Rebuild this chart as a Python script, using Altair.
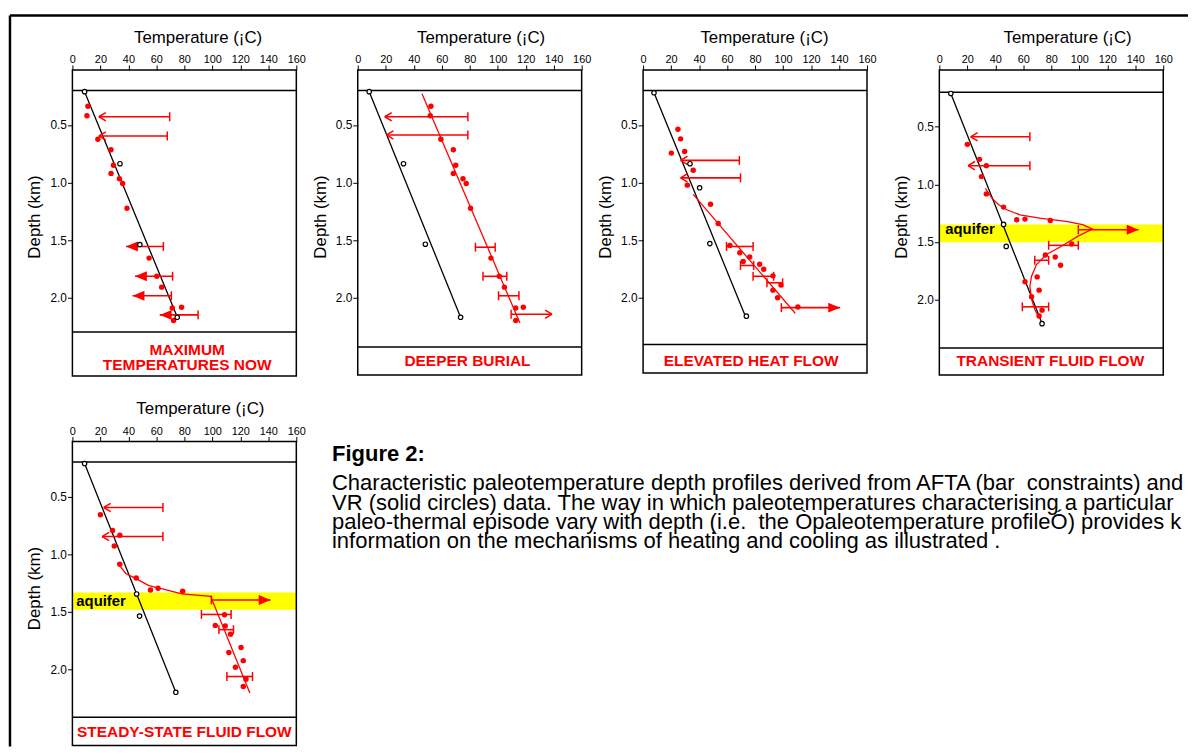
import altair as alt
import pandas as pd

FONT = "Liberation Sans"
RED = "#ff0000"
YELLOW = "#ffff00"

TEMP_TITLE = "Temperature (¡C)"
DEPTH_TITLE = "Depth (km)"
TEMP_TICKS = [0, 20, 40, 60, 80, 100, 120, 140, 160]
DEPTH_TICKS = [0.5, 1.0, 1.5, 2.0]
SURFACE_D = [0.2]

# ---------------- Panel 1 : MAXIMUM TEMPERATURES NOW ----------------
P1_TITLE = "MAXIMUM\nTEMPERATURES NOW"
P1_TITLE_T, P1_TITLE_D = 82.0, 2.457
P1_BASE_D = 2.298
P1_NOW_T = [8.7, 75.0]
P1_NOW_D = [0.21, 2.17]
P1_OPEN_T = [8.7, 34.0, 48.2, 74.9]
P1_OPEN_D = [0.21, 0.836, 1.538, 2.17]
P1_VR_T = [11.1, 10.4, 18.2, 27.6, 29.3, 27.6, 33.6, 35.9, 39.0, 54.8, 60.3, 63.8, 71.4, 78.0, 72.3]
P1_VR_D = [0.337, 0.42, 0.623, 0.715, 0.85, 0.92, 0.967, 1.008, 1.223, 1.656, 1.814, 1.908, 2.09, 2.083, 2.198]
P1_BAR_D = [0.428, 0.595, 1.555, 1.813, 1.983, 2.149]
P1_BAR_LO = [18.9, 18.9, 38.3, 44.7, 43.0, 62.4]
P1_BAR_HI = [69.5, 67.8, 65.0, 71.6, 70.7, 89.8]
P1_LO_END = ["open", "open", "fill", "fill", "fill", "fill"]
P1_HI_END = ["cap", "cap", "cap", "cap", "cap", "cap"]

# ---------------- Panel 2 : DEEPER BURIAL ----------------
P2_TITLE = "DEEPER BURIAL"
P2_TITLE_T, P2_TITLE_D = 78.4, 2.55
P2_BASE_D = 2.427
P2_NOW_T = [8.2, 73.5]
P2_NOW_D = [0.21, 2.17]
P2_OPEN_T = [8.2, 32.7, 48.3, 73.5]
P2_OPEN_D = [0.21, 0.836, 1.535, 2.17]
P2_FIT_T = [45.9, 115.9]
P2_FIT_D = [0.228, 2.22]
P2_VR_T = [52.3, 51.8, 59.4, 68.3, 70.0, 68.3, 75.2, 77.5, 80.6, 95.2, 101.1, 104.8, 112.9, 118.3, 112.9]
P2_VR_D = [0.337, 0.42, 0.623, 0.715, 0.85, 0.92, 0.967, 1.008, 1.223, 1.656, 1.814, 1.908, 2.09, 2.083, 2.198]
P2_BAR_D = [0.428, 0.586, 1.561, 1.814, 1.983, 2.143]
P2_BAR_LO = [19.3, 20.5, 84.1, 89.5, 100.6, 109.6]
P2_BAR_HI = [78.7, 78.7, 98.2, 106.5, 115.2, 138.8]
P2_LO_END = ["open", "open", "cap", "cap", "cap", "cap"]
P2_HI_END = ["cap", "cap", "cap", "cap", "cap", "open"]

# ---------------- Panel 3 : ELEVATED HEAT FLOW ----------------
P3_TITLE = "ELEVATED HEAT FLOW"
P3_TITLE_T, P3_TITLE_D = 77.2, 2.55
P3_BASE_D = 2.407
P3_NOW_T = [7.8, 73.1]
P3_NOW_D = [0.22, 2.16]
P3_OPEN_T = [7.8, 33.5, 40.4, 47.7, 73.8]
P3_OPEN_D = [0.22, 0.836, 1.045, 1.53, 2.16]
P3_FIT_T = [35.8, 108.7]
P3_FIT_D = [1.102, 2.135]
P3_VR_T = [24.9, 26.8, 29.7, 20.2, 35.8, 31.6, 48.2, 53.7, 62.0, 69.1, 76.2, 71.5, 83.3, 86.2, 92.8, 98.5, 92.8, 96.1, 110.6]
P3_VR_D = [0.537, 0.62, 0.73, 0.744, 0.893, 1.022, 1.188, 1.355, 1.547, 1.61, 1.647, 1.685, 1.71, 1.753, 1.81, 1.89, 1.934, 2.0, 2.08]
P3_BAR_D = [0.807, 0.959, 1.555, 1.72, 1.814, 1.87, 2.086]
P3_BAR_LO = [26.8, 26.8, 59.6, 69.6, 78.6, 88.5, 98.8]
P3_BAR_HI = [68.8, 69.6, 78.6, 79.0, 93.3, 99.7, 140.8]
P3_LO_END = ["open", "open", "cap", "cap", "cap", "cap", "cap"]
P3_HI_END = ["cap", "cap", "cap", "cap", "cap", "cap", "fill"]

# ---------------- Panel 4 : TRANSIENT FLUID FLOW ----------------
P4_TITLE = "TRANSIENT FLUID FLOW"
P4_TITLE_T, P4_TITLE_D = 79.3, 2.534
P4_BASE_D = 2.422
P4_AQUIFER = [1.35, 1.503]
P4_AQ_LABEL_T, P4_AQ_LABEL_D = 4.2, 1.389
P4_NOW_T = [8.2, 73.4]
P4_NOW_D = [0.211, 2.208]
P4_OPEN_T = [8.2, 45.9, 47.8, 73.4]
P4_OPEN_D = [0.211, 1.348, 1.539, 2.21]
P4_FIT_T = [32.9, 37.6, 42.4, 48.2, 57.6, 71.8, 90.6, 102.4, 109.4, 98.8, 87.0, 76.5, 69.4, 65.9, 64.7, 65.9, 68.2, 71.3]
P4_FIT_D = [1.034, 1.12, 1.178, 1.221, 1.265, 1.293, 1.322, 1.351, 1.389, 1.452, 1.54, 1.61, 1.697, 1.798, 1.885, 2.0, 2.087, 2.16]
P4_VR_T = [20.0, 28.7, 33.6, 30.1, 33.6, 45.9, 55.3, 61.2, 79.3, 94.6, 75.8, 82.8, 86.6, 69.9, 71.3, 61.2, 65.9, 73.4, 71.3]
P4_VR_D = [0.653, 0.783, 0.838, 0.933, 1.083, 1.198, 1.308, 1.302, 1.314, 1.518, 1.614, 1.631, 1.703, 1.804, 1.919, 1.847, 1.977, 2.093, 2.144]
P4_BAR_D = [0.587, 0.838, 1.394, 1.53, 1.66, 2.064]
P4_BAR_LO = [22.4, 20.5, 99.3, 78.1, 68.2, 59.3]
P4_BAR_HI = [64.7, 64.7, 142.4, 99.3, 78.1, 78.1]
P4_LO_END = ["open", "open", "cap", "cap", "cap", "cap"]
P4_HI_END = ["cap", "cap", "fill", "cap", "cap", "cap"]

# ---------------- Panel 5 : STEADY-STATE FLUID FLOW ----------------
P5_TITLE = "STEADY-STATE FLUID FLOW"
P5_TITLE_T, P5_TITLE_D = 80.0, 2.547
P5_BASE_D = 2.416
P5_AQUIFER = [1.333, 1.484]
P5_AQ_LABEL_T, P5_AQ_LABEL_D = 2.8, 1.404
P5_NOW_T = [8.7, 73.9]
P5_NOW_D = [0.213, 2.2]
P5_OPEN_T = [8.7, 45.9, 48.0, 73.9]
P5_OPEN_D = [0.213, 1.346, 1.538, 2.2]
P5_FIT_T = [32.2, 38.1, 45.2, 54.6, 66.4, 78.1, 98.8, 126.8]
P5_FIT_D = [1.074, 1.168, 1.211, 1.274, 1.309, 1.346, 1.366, 2.206]
P5_VR_T = [20.0, 28.7, 33.9, 29.9, 33.9, 45.6, 55.8, 61.2, 78.8, 108.7, 102.1, 109.2, 113.0, 120.5, 111.8, 122.1, 116.5, 124.0, 122.1]
P5_VR_D = [0.658, 0.795, 0.836, 0.93, 1.088, 1.208, 1.312, 1.297, 1.323, 1.527, 1.619, 1.624, 1.696, 1.811, 1.854, 1.925, 1.983, 2.086, 2.149]
P5_BAR_D = [0.595, 0.847, 1.398, 1.524, 1.656, 2.063]
P5_BAR_LO = [22.4, 21.2, 99.3, 92.2, 104.7, 110.4]
P5_BAR_HI = [64.7, 64.7, 141.6, 113.4, 115.1, 128.7]
P5_LO_END = ["open", "open", "cap", "cap", "cap", "cap"]
P5_HI_END = ["cap", "cap", "fill", "cap", "cap", "cap"]

CAPTION_HEAD = "Figure 2:"
CAPTION_LINES = [
    "Characteristic paleotemperature depth profiles derived from AFTA (bar \u00a0constraints) and",
    "VR (solid circles) data. The way in which paleotemperatures characterising a particular",
    "paleo-thermal episode vary with depth (i.e. \u00a0the \u00d2paleotemperature profile\u00d3) provides key",
    "information on the mechanisms of heating and cooling as illustrated .",
]

# ---------------- styling / layout constants ----------------
KM_PX = 116.2
PLOT_W = 226
END_STYLE = {
    "cap": ("M0,-1L0,1", 81, False),
    "openL": ("M0,0L1,-0.6M0,0L1,0.6", 196, False),
    "openR": ("M0,0L-1,-0.6M0,0L-1,0.6", 196, False),
    "fillL": ("M0,0L1,-0.42L1,0.42Z", 576, True),
    "fillR": ("M0,0L-1,-0.42L-1,0.42Z", 576, True),
}
LO_KIND = {"cap": "cap", "open": "openL", "fill": "fillL"}
HI_KIND = {"cap": "cap", "open": "openR", "fill": "fillR"}
ONE = pd.DataFrame({"k": [0]})


def panel(title, title_t, title_d, base_d, d_top, height, now_t, now_d,
          open_t, open_d, vr_t, vr_d, bar_d, bar_lo, bar_hi, lo_end, hi_end,
          fit_t=None, fit_d=None, aquifer=None, aq_t=None, aq_d=None,
          left=0, view_w=PLOT_W, title_dx=13, frame=False):
    d_bot = d_top + height / KM_PX
    xs = alt.Scale(domain=[0, 160], range=[left, left + PLOT_W], nice=False, zero=False)
    ys = alt.Scale(domain=[d_top, d_bot], reverse=True, nice=False, zero=False)
    xaxis = alt.Axis(orient="top", values=TEMP_TICKS, title=TEMP_TITLE, labelFontSize=11,
                     labelPadding=0, tickSize=5, tickColor="black", tickWidth=1, domain=False,
                     grid=False, labelColor="black", titleColor="black", titleFontSize=17,
                     titleFontWeight="normal", titleX=left + PLOT_W / 2 + title_dx, titleY=-28,
                     titleBaseline="alphabetic", labelFlush=False, labelFont=FONT, titleFont=FONT)
    yaxis = alt.Axis(values=DEPTH_TICKS, format=".1f", title=DEPTH_TITLE, labelFontSize=12,
                     labelPadding=1, tickSize=5, tickColor="black", tickWidth=1, domain=False,
                     grid=False, labelColor="black", titleColor="black", titleFontSize=17,
                     titleFontWeight="normal", offset=-left, titleX=-38, titleY=148,
                     titleBaseline="middle", titleAngle=270, labelFont=FONT, titleFont=FONT)

    def X(f):
        return alt.X(f, type="quantitative", scale=xs, axis=xaxis)

    def Y(f):
        return alt.Y(f, type="quantitative", scale=ys, axis=yaxis)

    xl, xr = alt.value(left), alt.value(left + PLOT_W)
    layers = []
    if aquifer is not None:
        layers.append(alt.Chart(pd.DataFrame({"D": [aquifer[0]], "D2": [aquifer[1]]}))
                      .mark_rect(color=YELLOW).encode(y=Y("D"), y2=alt.Y2("D2"), x=xl, x2=xr))
    layers.append(alt.Chart(pd.DataFrame({"D": SURFACE_D + [base_d]}))
                  .mark_rule(color="black", strokeWidth=1.5).encode(y=Y("D"), x=xl, x2=xr))
    layers.append(alt.Chart(pd.DataFrame({"T": now_t, "D": now_d, "i": range(len(now_t))}))
                  .mark_line(color="black", strokeWidth=1.3)
                  .encode(x=X("T"), y=Y("D"), order=alt.Order("i:Q")))
    if fit_t is not None:
        layers.append(alt.Chart(pd.DataFrame({"T": fit_t, "D": fit_d, "i": range(len(fit_t))}))
                      .mark_line(color=RED, strokeWidth=1.3)
                      .encode(x=X("T"), y=Y("D"), order=alt.Order("i:Q")))
    layers.append(alt.Chart(pd.DataFrame({"lo": bar_lo, "hi": bar_hi, "D": bar_d}))
                  .mark_rule(color=RED, strokeWidth=1.6)
                  .encode(x=X("lo"), x2=alt.X2("hi"), y=Y("D")))
    ends = []
    for d, lo, hi, le, he in zip(bar_d, bar_lo, bar_hi, lo_end, hi_end):
        ends.append((lo, d, LO_KIND[le]))
        ends.append((hi, d, HI_KIND[he]))
    ends = pd.DataFrame(ends, columns=["T", "D", "kind"])
    for kind, (path, size, filled) in END_STYLE.items():
        sub = ends[ends["kind"] == kind]
        if len(sub) == 0:
            continue
        layers.append(alt.Chart(sub[["T", "D"]])
                      .mark_point(shape=path, size=size, filled=filled, color=RED,
                                  strokeWidth=1.5, opacity=1)
                      .encode(x=X("T"), y=Y("D")))
    layers.append(alt.Chart(pd.DataFrame({"T": vr_t, "D": vr_d}))
                  .mark_circle(color=RED, size=30, opacity=1)
                  .encode(x=X("T"), y=Y("D")))
    layers.append(alt.Chart(pd.DataFrame({"T": open_t, "D": open_d}))
                  .mark_point(shape="circle", filled=True, fill="white", stroke="black",
                              strokeWidth=1.2, size=20, opacity=1)
                  .encode(x=X("T"), y=Y("D")))
    if aq_t is not None:
        layers.append(alt.Chart(pd.DataFrame({"T": [aq_t], "D": [aq_d], "s": ["aquifer"]}))
                      .mark_text(align="left", baseline="middle", fontSize=15,
                                 fontWeight="bold", color="black", font=FONT)
                      .encode(x=X("T"), y=Y("D"), text="s:N"))
    layers.append(alt.Chart(pd.DataFrame({"T": [title_t], "D": [title_d], "s": [title]}))
                  .mark_text(align="center", baseline="middle", fontSize=15.6, fontWeight="bold",
                             color=RED, font=FONT, lineBreak="\n", lineHeight=15)
                  .encode(x=X("T"), y=Y("D"), text="s:N"))
    layers.append(alt.Chart(ONE).mark_rect(fillOpacity=0, stroke="black", strokeWidth=1.5)
                  .encode(x=xl, x2=xr, y=alt.value(0), y2=alt.value(height)))
    if frame:
        layers.append(alt.Chart(ONE).mark_rule(color="black", strokeWidth=2.5)
                      .encode(x=alt.value(-63), y=alt.value(-55), y2=alt.value(683)))
        layers.append(alt.Chart(ONE).mark_rule(color="black", strokeWidth=2.5)
                      .encode(x=alt.value(-63), x2=alt.value(1126), y=alt.value(-55)))
    return alt.layer(*layers).properties(width=view_w, height=height)


p1 = panel(P1_TITLE, P1_TITLE_T, P1_TITLE_D, P1_BASE_D, 0.021, 309, P1_NOW_T, P1_NOW_D,
           P1_OPEN_T, P1_OPEN_D, P1_VR_T, P1_VR_D, P1_BAR_D, P1_BAR_LO, P1_BAR_HI,
           P1_LO_END, P1_HI_END, title_dx=13.4, frame=True)
p2 = panel(P2_TITLE, P2_TITLE_T, P2_TITLE_D, P2_BASE_D, 0.021, 308, P2_NOW_T, P2_NOW_D,
           P2_OPEN_T, P2_OPEN_D, P2_VR_T, P2_VR_D, P2_BAR_D, P2_BAR_LO, P2_BAR_HI,
           P2_LO_END, P2_HI_END, fit_t=P2_FIT_T, fit_d=P2_FIT_D, title_dx=11)
p3 = panel(P3_TITLE, P3_TITLE_T, P3_TITLE_D, P3_BASE_D, 0.021, 306, P3_NOW_T, P3_NOW_D,
           P3_OPEN_T, P3_OPEN_D, P3_VR_T, P3_VR_D, P3_BAR_D, P3_BAR_LO, P3_BAR_HI,
           P3_LO_END, P3_HI_END, fit_t=P3_FIT_T, fit_d=P3_FIT_D, title_dx=9)
p4 = panel(P4_TITLE, P4_TITLE_T, P4_TITLE_D, P4_BASE_D, 0.006, 308, P4_NOW_T, P4_NOW_D,
           P4_OPEN_T, P4_OPEN_D, P4_VR_T, P4_VR_D, P4_BAR_D, P4_BAR_LO, P4_BAR_HI,
           P4_LO_END, P4_HI_END, fit_t=P4_FIT_T, fit_d=P4_FIT_D, aquifer=P4_AQUIFER,
           aq_t=P4_AQ_LABEL_T, aq_d=P4_AQ_LABEL_D, left=11, view_w=PLOT_W + 11, title_dx=16)
p5 = panel(P5_TITLE, P5_TITLE_T, P5_TITLE_D, P5_BASE_D, 0.021, 307, P5_NOW_T, P5_NOW_D,
           P5_OPEN_T, P5_OPEN_D, P5_VR_T, P5_VR_D, P5_BAR_D, P5_BAR_LO, P5_BAR_HI,
           P5_LO_END, P5_HI_END, fit_t=P5_FIT_T, fit_d=P5_FIT_D, aquifer=P5_AQUIFER,
           aq_t=P5_AQ_LABEL_T, aq_d=P5_AQ_LABEL_D, title_dx=15.7)

# caption sits in column 1 of the second row; its text starts 26px left of that column
CAP_LIMIT = 866
cap_head = alt.Chart(ONE).mark_text(text=CAPTION_HEAD, align="left", baseline="alphabetic",
                                    fontSize=22.2, fontWeight="bold", color="black", font=FONT
                                    ).encode(x=alt.value(-26), y=alt.value(20))
cap_body = alt.Chart(ONE).mark_text(text=CAPTION_LINES, align="left", baseline="alphabetic",
                                    fontSize=22.2, lineHeight=19.5, color="black", font=FONT,
                                    limit=CAP_LIMIT, ellipsis="\u200b"
                                    ).encode(x=alt.value(-26), y=alt.value(49.5))
caption = alt.layer(cap_head, cap_body).properties(width=200, height=130)

chart = alt.concat(
    p1, p2, p3, p4, p5, caption,
    columns=4,
    spacing=alt.RowColnumber(row=66, column=62),
    bounds="flush",
).properties(
    padding={"left": 0, "top": 2, "right": 0, "bottom": 0}
).configure(font=FONT).configure_view(stroke="transparent")

chart.save("out.html", embed_options={"renderer": "svg", "actions": False})
